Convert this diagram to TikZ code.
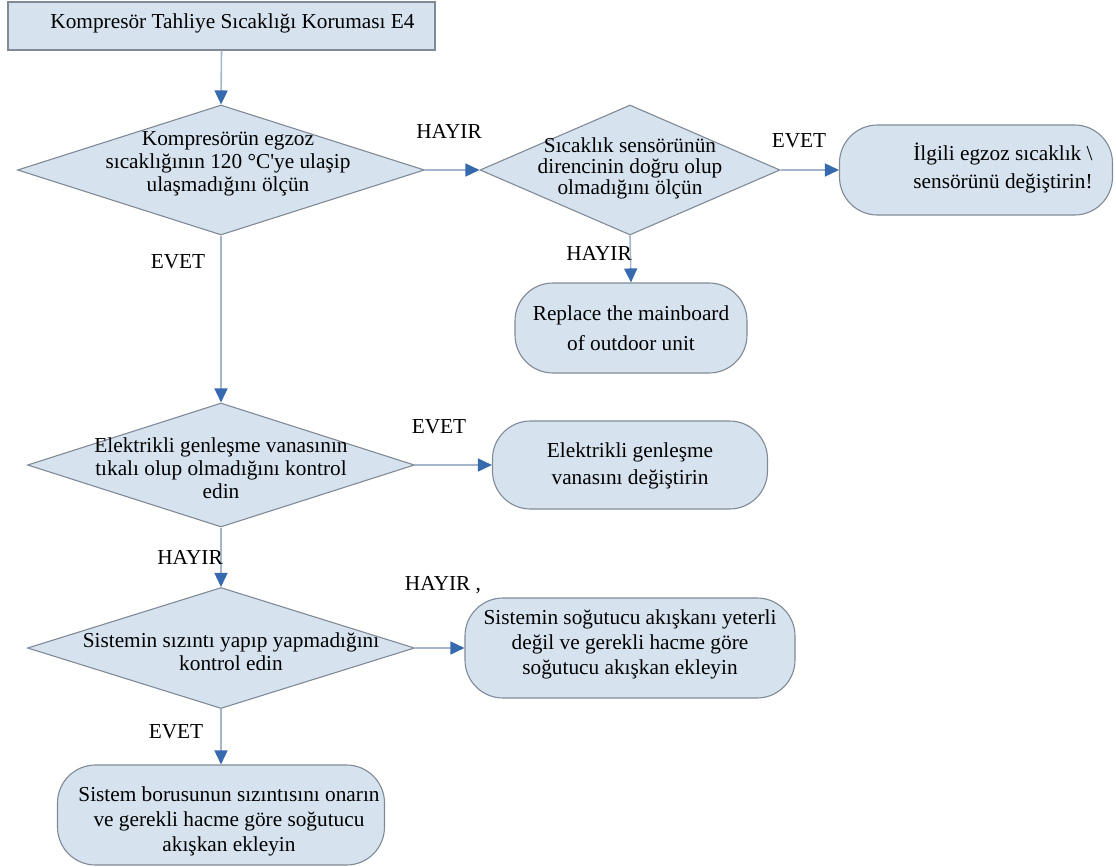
\documentclass[tikz,border=0pt]{standalone}
\usepackage{fontspec}
\setmainfont{Liberation Serif}
\usetikzlibrary{shapes.geometric,arrows.meta}
\definecolor{boxfill}{RGB}{214,227,239}
\definecolor{boxline}{RGB}{128,138,150}
\definecolor{linkline}{RGB}{165,182,204}
\definecolor{tipblue}{RGB}{55,105,175}
\newcommand{\txtsize}[1]{\fontsize{21.3}{#1}\selectfont}
\begin{document}
\begin{tikzpicture}[x=1pt,y=-1pt,
  font=\txtsize{23},
  base/.style={draw=boxline, fill=boxfill, line width=1.1pt, inner sep=0pt},
  startbox/.style={base, rectangle, minimum width=427pt, minimum height=48pt},
  decision/.style={base, diamond},
  action/.style={base, rectangle, rounded corners=38pt},
  inside/.style={align=center, inner sep=0pt},
  flow/.style={draw=linkline, line width=1.6pt, -{Triangle[length=14pt,width=13pt,color=tipblue]}},
  tag/.style={inner sep=0pt}
]
\useasboundingbox (0,0) rectangle (1116,867);

% start box
\node[startbox, label={[inside,xshift=11pt,yshift=3pt]center:Kompresör Tahliye Sıcaklığı Koruması E4}] (start) at (221.5,26) {};

% decisions
\node[decision, minimum width=407pt, minimum height=130pt,
  label={[inside,xshift=7pt,yshift=6pt]center:{Kompresörün egzoz\\sıcaklığının 120 °C\textquotesingle ye ulaşip\\ulaşmadığını ölçün}}] (d1) at (221,170) {};
\node[decision, minimum width=300pt, minimum height=130pt,
  label={[inside,font=\txtsize{21},yshift=2pt]center:{Sıcaklık sensörünün\\direncinin doğru olup\\olmadığını ölçün}}] (d2) at (630,170) {};
\node[decision, minimum width=387pt, minimum height=124pt,
  label={[inside,yshift=-3pt]center:{Elektrikli genleşme vanasının\\tıkalı olup olmadığını kontrol\\edin}}] (d3) at (221,465) {};
\node[decision, minimum width=387pt, minimum height=121pt,
  label={[inside,xshift=10pt,yshift=-4pt]center:{Sistemin sızıntı yapıp yapmadığını\\kontrol edin}}] (d4) at (221,648) {};

% actions
\node[action, minimum width=273pt, minimum height=90pt,
  label={[inside,font=\txtsize{28},xshift=27pt,yshift=2pt]center:{İlgili egzoz sıcaklık \textbackslash\\sensörünü değiştirin!}}] (b3) at (976,170) {};
\node[action, minimum width=232pt, minimum height=90pt,
  label={[inside,font=\txtsize{30}]center:{Replace the mainboard\\of outdoor unit}}] (b4) at (631,328) {};
\node[action, minimum width=275pt, minimum height=88pt,
  label={[inside,font=\txtsize{27},yshift=-1pt]center:{Elektrikli genleşme\\vanasını değiştirin}}] (b5) at (630,465) {};
\node[action, minimum width=330pt, minimum height=100pt,
  label={[inside,font=\txtsize{25},yshift=4pt]center:{Sistemin soğutucu akışkanı yeterli\\değil ve gerekli hacme göre\\soğutucu akışkan ekleyin}}] (b6) at (630,648) {};
\node[action, minimum width=327pt, minimum height=100pt,
  label={[inside,font=\txtsize{25},xshift=8pt,yshift=-6pt]center:{Sistem borusunun sızıntısını onarın\\ve gerekli hacme göre soğutucu\\akışkan ekleyin}}] (b7) at (221,815) {};

% connectors
\draw[flow] (start.south) -- (d1.north);
\draw[flow] (d1.east) -- (d2.west);
\draw[flow] (d2.east) -- (b3.west);
\draw[flow] (d2.south) -- (b4.north);
\draw[flow] (d1.south) -- (d3.north);
\draw[flow] (d3.east) -- (b5.west);
\draw[flow] (d3.south) -- (d4.north);
\draw[flow] (d4.east) -- (b6.west);
\draw[flow] (d4.south) -- (b7.north);

% branch labels
\node[tag] (l1) at (449,131) {HAYIR};
\node[tag] (l2) at (799,141) {EVET};
\node[tag] (l3) at (599,253) {HAYIR};
\node[tag] (l4) at (178,262) {EVET};
\node[tag] (l5) at (439,427) {EVET};
\node[tag] (l6) at (190,557) {HAYIR};
\node[tag] (l7) at (443,585) {HAYIR ,};
\node[tag] (l8) at (176,732) {EVET};
\end{tikzpicture}
\end{document}
